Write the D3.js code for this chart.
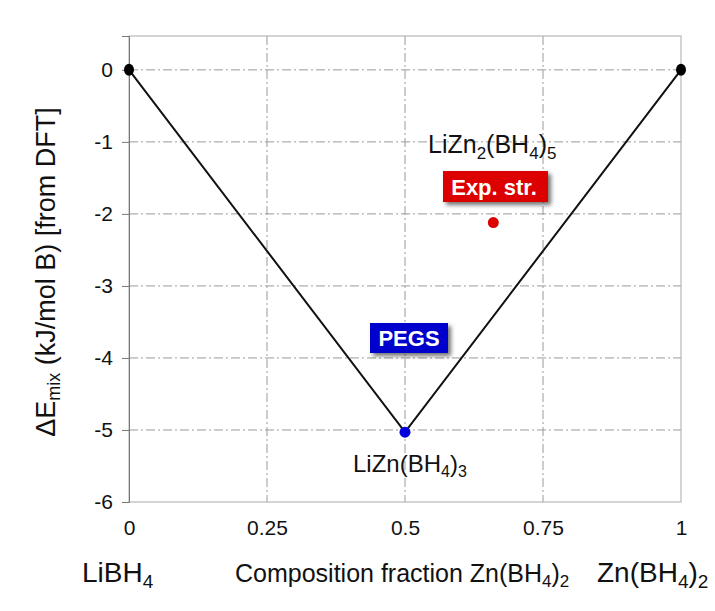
<!DOCTYPE html>
<html><head><meta charset="utf-8">
<script src="https://cdn.jsdelivr.net/npm/d3@7"></script>
<style>body{margin:0;background:#fff;}svg{display:block;font-family:"Liberation Sans",Arial,sans-serif;}</style>
</head><body>
<script>
const xTicks = [0, 0.25, 0.5, 0.75, 1];
const xTickLabels = ["0", "0.25", "0.5", "0.75", "1"];
const yTicks = [0, -1, -2, -3, -4, -5, -6];
const yTickLabels = ["0", "-1", "-2", "-3", "-4", "-5", "-6"];
const hullX = [0, 0.5, 1];
const hullY = [0, -5.03, 0];
const endX = [0, 1];
const endY = [0, 0];
const pegsPoint = [0.5, -5.03];
const expPoint = [0.66, -2.12];

const W = 715, H = 611;
const svg = d3.select("body").append("svg").attr("width", W).attr("height", H);
const x = d3.scaleLinear().domain([0, 1]).range([129, 681]);
const y = d3.scaleLinear().domain([0.47, -6]).range([36, 502]);
const FF = "Liberation Sans, Arial, sans-serif";

// grid
const grid = svg.append("g").attr("stroke", "#9a9a9a").attr("stroke-width", 1).attr("stroke-dasharray", "9,3,2,3");
grid.selectAll("line.h").data(yTicks.filter(d => d > -6)).enter().append("line")
  .attr("x1", x(0)).attr("x2", x(1)).attr("y1", d => y(d)).attr("y2", d => y(d));
grid.selectAll("line.v").data(xTicks.filter(d => d > 0 && d < 1)).enter().append("line")
  .attr("y1", y(0.47)).attr("y2", y(-6)).attr("x1", d => x(d)).attr("x2", d => x(d));

// frame
svg.append("rect").attr("x", x(0)).attr("y", y(0.47)).attr("width", x(1) - x(0)).attr("height", y(-6) - y(0.47))
  .attr("fill", "none").attr("stroke", "#aaa").attr("stroke-width", 1);

// y axis
const yAxis = d3.axisLeft(y).tickValues(yTicks).tickSize(7).tickPadding(9).tickFormat((d, i) => yTickLabels[i]);
const ya = svg.append("g").attr("transform", `translate(${x(0)},0)`).call(yAxis);
ya.select(".domain").attr("stroke", "#777");
ya.selectAll(".tick line").attr("stroke", "#777");
ya.selectAll("text").attr("font-size", 21).attr("fill", "#111").attr("font-family", FF);

// x axis (labels only)
const xAxis = d3.axisBottom(x).tickValues(xTicks).tickSize(0).tickPadding(18).tickFormat((d, i) => xTickLabels[i]);
const xa = svg.append("g").attr("transform", `translate(0,${y(-6)})`).call(xAxis);
xa.select(".domain").remove();
xa.selectAll("text").attr("font-size", 21).attr("fill", "#111").attr("font-family", FF);

// hull line
const line = d3.line().x((d, i) => x(hullX[i])).y((d, i) => y(hullY[i]));
svg.append("path").datum(hullX).attr("d", line).attr("fill", "none").attr("stroke", "#111").attr("stroke-width", 2);

// points
svg.selectAll("ellipse.end").data(endX).enter().append("ellipse")
  .attr("cx", d => x(d)).attr("cy", (d, i) => y(endY[i])).attr("rx", 5).attr("ry", 6).attr("fill", "#000");
svg.append("circle").attr("cx", x(pegsPoint[0])).attr("cy", y(pegsPoint[1])).attr("r", 5.5).attr("fill", "#0000dd");
svg.append("circle").attr("cx", x(expPoint[0])).attr("cy", y(expPoint[1])).attr("r", 5.5).attr("fill", "#dd0000");

// shadow filter
const defs = svg.append("defs");
const f = defs.append("filter").attr("id", "sh").attr("x", "-20%").attr("y", "-20%").attr("width", "150%").attr("height", "160%");
f.append("feDropShadow").attr("dx", 3).attr("dy", 3).attr("stdDeviation", 2).attr("flood-color", "#000").attr("flood-opacity", 0.55);

// chemical formula helper: parts = [text, isSub]
function chem(parts, xPos, yPos, size, sub, shift) {
  const t = svg.append("text").attr("x", xPos).attr("y", yPos).attr("font-size", size).attr("fill", "#111");
  let down = false;
  parts.forEach(p => {
    const s = t.append("tspan").text(p[0]);
    if (p[1]) { s.attr("font-size", sub); if (!down) { s.attr("dy", shift); down = true; } }
    else if (down) { s.attr("dy", -shift); down = false; }
  });
  return t;
}

chem([["LiZn"], ["2", 1], ["(BH"], ["4", 1], [")"], ["5", 1]], 428, 153, 25, 17, 6);
chem([["LiZn(BH"], ["4", 1], [")"], ["3", 1]], 353, 472, 24, 16, 5);

// boxes
svg.append("rect").attr("x", 443).attr("y", 171).attr("width", 105).attr("height", 31).attr("fill", "#dd0000").attr("filter", "url(#sh)");
svg.append("text").attr("x", 494).attr("y", 195).attr("text-anchor", "middle").attr("font-size", 22).attr("font-weight", "bold").attr("fill", "#fff").text("Exp. str.");
svg.append("rect").attr("x", 370).attr("y", 323).attr("width", 78).attr("height", 30).attr("fill", "#0000cc").attr("filter", "url(#sh)");
svg.append("text").attr("x", 409).attr("y", 346).attr("text-anchor", "middle").attr("font-size", 22).attr("font-weight", "bold").attr("fill", "#fff").text("PEGS");

// y title
(function(){
  const t = svg.append("text").attr("transform", "translate(55,272) rotate(-90)").attr("text-anchor", "middle").attr("font-size", 27).attr("fill", "#111");
  t.append("tspan").text("ΔE");
  t.append("tspan").text("mix").attr("font-size", 18).attr("dy", 5);
  t.append("tspan").text(" (kJ/mol B) [from DFT]").attr("dy", -5);
})();

// bottom labels
chem([["LiBH"], ["4", 1]], 82, 582, 28, 19, 6);
chem([["Composition fraction Zn(BH"], ["4", 1], [")"], ["2", 1]], 235, 582, 25, 17, 5);
chem([["Zn(BH"], ["4", 1], [")"], ["2", 1]], 597, 582, 28, 19, 6);
</script>
</body></html>
